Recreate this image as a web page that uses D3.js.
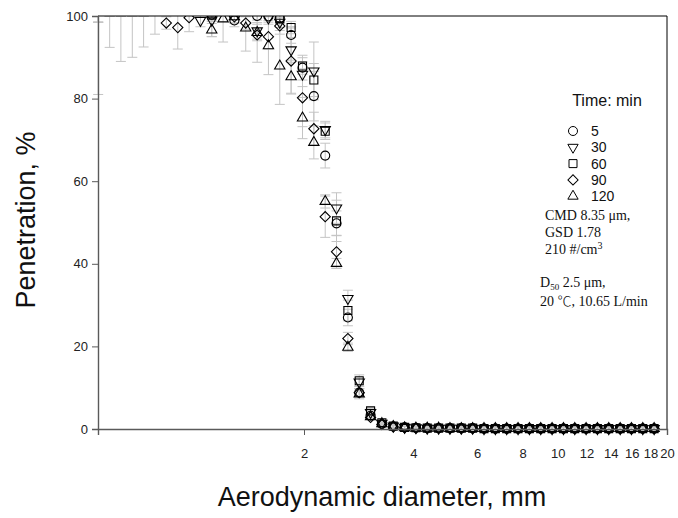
<!DOCTYPE html>
<html>
<head>
<meta charset="utf-8">
<script src="https://cdn.jsdelivr.net/npm/d3@7"></script>
<style>
  body { margin: 0; background: #fff; }
  svg { display: block; }
  .tick text { font-family: "Liberation Sans", Arial, sans-serif; font-size: 13px; fill: #222; }
  .title { font-family: "Liberation Sans", Arial, sans-serif; font-size: 27px; fill: #111; }
  .legend { font-family: "Liberation Sans", Arial, sans-serif; font-size: 14px; fill: #111; }
  .note { font-family: "Liberation Serif", "Times New Roman", serif; font-size: 14px; fill: #111; }
</style>
</head>
<body>
<script>
// APS channel midpoints, um
const diameters = [0.542, 0.583, 0.626, 0.673, 0.723, 0.777, 0.835, 0.898, 0.965, 1.037,
  1.114, 1.197, 1.286, 1.382, 1.486, 1.596, 1.715, 1.843, 1.981, 2.129,
  2.288, 2.458, 2.642, 2.839, 3.051, 3.278, 3.523, 3.786, 4.068, 4.371,
  4.698, 5.048, 5.425, 5.829, 6.264, 6.732, 7.234, 7.774, 8.354, 8.977,
  9.647, 10.37, 11.14, 11.97, 12.86, 13.82, 14.86, 15.96, 17.15, 18.43];

// penetration, % (values above 100 fall outside the frame)
const pen5 = [103, 103, 103, 103, 103, 103, 103, 103, 103, 103,
  100.3, 103, 98.9, 103, 100, 99.9, 99.5, 95.4, 87.5, 80.6,
  66.2, 49.8, 27, 8.8, 3.2, 1.2, 0.6, 0.4, 0.3, 0.2,
  0.2, 0.2, 0.2, 0.2, 0.1, 0.1, 0.1, 0.1, 0.1, 0.1,
  0.1, 0.1, 0.1, 0.1, 0.1, 0.1, 0.1, 0.1, 0.1, 0.1];
const pen30 = [103, 103, 103, 103, 103, 103, 103, 103, 103, 98.9,
  99.0, 103, 103, 103, 96.4, 99.5, 98.5, 91.8, 85.9, 86.7,
  72.5, 53.5, 31.6, 11.4, 4.0, 1.4, 0.7, 0.4, 0.3, 0.2,
  0.2, 0.2, 0.2, 0.2, 0.1, 0.1, 0.1, 0.1, 0.1, 0.1,
  0.1, 0.1, 0.1, 0.1, 0.1, 0.1, 0.1, 0.1, 0.1, 0.1];
const pen60 = [103, 103, 103, 103, 103, 103, 103, 103, 103, 103,
  100.2, 103, 103, 103, 103, 103, 99.3, 97.2, 87.9, 84.5,
  72.1, 50.4, 28.7, 11.7, 4.4, 1.5, 0.7, 0.4, 0.3, 0.2,
  0.2, 0.2, 0.2, 0.2, 0.1, 0.1, 0.1, 0.1, 0.1, 0.1,
  0.1, 0.1, 0.1, 0.1, 0.1, 0.1, 0.1, 0.1, 0.1, 0.1];
const pen90 = [103, 103, 103, 103, 103, 103, 98.3, 97.2, 99.6, 103,
  103, 103, 99.8, 98.3, 95.4, 95.0, 97.6, 89.1, 80.2, 72.7,
  51.4, 42.9, 21.9, 8.8, 2.8, 1.1, 0.5, 0.3, 0.2, 0.2,
  0.2, 0.1, 0.1, 0.1, 0.1, 0.1, 0.1, 0.1, 0.1, 0.1,
  0.1, 0.1, 0.1, 0.1, 0.1, 0.1, 0.1, 0.1, 0.1, 0.1];
const pen120 = [103, 103, 103, 103, 103, 103, 103, 103, 103, 103,
  96.6, 99.3, 99.8, 97.1, 96.0, 92.8, 87.9, 85.3, 75.3, 69.4,
  55.1, 40.1, 19.8, 8.5, 3.0, 1.3, 0.6, 0.3, 0.2, 0.2,
  0.2, 0.1, 0.1, 0.1, 0.1, 0.1, 0.1, 0.1, 0.1, 0.1,
  0.1, 0.1, 0.1, 0.1, 0.1, 0.1, 0.1, 0.1, 0.1, 0.1];

// standard deviations, %
const err5 = [22, 10.6, 14, 13, 10.5, 7.4, 2, 2, 2, 2,
  1.5, 2, 1.5, 2, 1, 1, 1, 2, 3, 6,
  3, 3, 2, 1, 0.5, 0.3, 0.3, 0.3, 0.3, 0.3,
  0.3, 0.3, 0.3, 0.3, 0.3, 0.3, 0.3, 0.3, 0.3, 0.3,
  0.3, 0.3, 0.3, 0.3, 0.3, 0.3, 0.3, 0.3, 0.3, 0.3];
const err30 = [4.5, 3, 3, 3, 3, 2, 2, 2, 2, 1.5,
  4, 2, 2, 2, 2, 1, 2, 3, 3, 7,
  2, 3.7, 2, 1, 0.5, 0.3, 0.3, 0.3, 0.3, 0.3,
  0.3, 0.3, 0.3, 0.3, 0.3, 0.3, 0.3, 0.3, 0.3, 0.3,
  0.3, 0.3, 0.3, 0.3, 0.3, 0.3, 0.3, 0.3, 0.3, 0.3];
const err60 = [4.5, 3, 3, 3, 3, 2, 2, 2, 2, 2,
  1.5, 2, 2, 2, 2, 2, 1, 1.5, 2, 4,
  2, 5, 2.5, 1.4, 0.6, 0.3, 0.3, 0.3, 0.3, 0.3,
  0.3, 0.3, 0.3, 0.3, 0.3, 0.3, 0.3, 0.3, 0.3, 0.3,
  0.3, 0.3, 0.3, 0.3, 0.3, 0.3, 0.3, 0.3, 0.3, 0.3];
const err90 = [4.5, 3, 3, 3, 3, 2, 1.5, 5.2, 3.4, 2,
  2, 2, 1.5, 1.5, 6.6, 3, 2, 8, 7, 4,
  5, 4, 1.5, 1, 0.5, 0.3, 0.3, 0.3, 0.3, 0.3,
  0.3, 0.3, 0.3, 0.3, 0.3, 0.3, 0.3, 0.3, 0.3, 0.3,
  0.3, 0.3, 0.3, 0.3, 0.3, 0.3, 0.3, 0.3, 0.3, 0.3];
const err120 = [4.5, 3, 3, 3, 3, 2, 2, 2, 2, 2,
  1.6, 5.6, 1.5, 5.6, 2, 7, 9.3, 4, 5, 4,
  1.6, 1.2, 1, 1.2, 0.5, 0.3, 0.3, 0.3, 0.3, 0.3,
  0.3, 0.3, 0.3, 0.3, 0.3, 0.3, 0.3, 0.3, 0.3, 0.3,
  0.3, 0.3, 0.3, 0.3, 0.3, 0.3, 0.3, 0.3, 0.3, 0.3];

const times = ["5", "30", "60", "90", "120"];
const xTicks = [2, 4, 6, 8, 10, 12, 14, 16, 18, 20];
const yTicks = [0, 20, 40, 60, 80, 100];

const series = [
  {name: times[0], y: pen5, e: err5, shape: "circle"},
  {name: times[1], y: pen30, e: err30, shape: "tridown"},
  {name: times[2], y: pen60, e: err60, shape: "square"},
  {name: times[3], y: pen90, e: err90, shape: "diamond"},
  {name: times[4], y: pen120, e: err120, shape: "triup"}
];

const W = 678, H = 518;
const margin = {top: 16, right: 11, bottom: 89, left: 98};

const svg = d3.select("body").append("svg")
  .attr("width", W).attr("height", H);

const x = d3.scaleLog().domain([0.5414, 20]).range([margin.left, W - margin.right]);
const y = d3.scaleLinear().domain([0, 100]).range([H - margin.bottom, margin.top]);

// symbol path per shape, scaled by k
function symbolPath(shape, k) {
  switch (shape) {
    case "circle": return d3.symbol(d3.symbolCircle, 64 * k * k)();
    case "square": return d3.symbol(d3.symbolSquare, 64 * k * k)();
    case "diamond": return d3.symbol(d3.symbolSquare, 52 * k * k)();
    default: return d3.symbol(d3.symbolTriangle, 46 * k * k)();
  }
}
function symbolRotate(shape) {
  if (shape === "tridown") return 180;
  if (shape === "diamond") return 45;
  return 0;
}

svg.append("clipPath").attr("id", "plotClip")
  .append("rect")
  .attr("x", margin.left - 10).attr("y", margin.top)
  .attr("width", W - margin.left - margin.right + 20)
  .attr("height", H - margin.top - margin.bottom + 20);

const plot = svg.append("g").attr("clip-path", "url(#plotClip)");

// error bars
series.forEach(function(s) {
  const g = plot.append("g").attr("class", "err");
  diameters.forEach(function(d, i) {
    const cx = x(d);
    const lo = y(s.y[i] - s.e[i]), hi = y(s.y[i] + s.e[i]);
    g.append("line").attr("x1", cx).attr("x2", cx).attr("y1", lo).attr("y2", hi);
    g.append("line").attr("x1", cx - 5).attr("x2", cx + 5).attr("y1", lo).attr("y2", lo);
    g.append("line").attr("x1", cx - 5).attr("x2", cx + 5).attr("y1", hi).attr("y2", hi);
  });
  g.selectAll("line").attr("stroke", "#c4c4c4").attr("stroke-width", 1);
});

// markers
series.forEach(function(s) {
  plot.append("g").selectAll("path")
    .data(diameters)
    .join("path")
    .attr("d", symbolPath(s.shape, 1))
    .attr("transform", (d, i) => "translate(" + x(d) + "," + y(s.y[i]) + ") rotate(" + symbolRotate(s.shape) + ")")
    .attr("fill", "none")
    .attr("stroke", "#000")
    .attr("stroke-width", 1.1);
});

// frame: top and right
svg.append("line").attr("x1", margin.left).attr("x2", W - margin.right)
  .attr("y1", margin.top).attr("y2", margin.top).attr("stroke", "#000");
svg.append("line").attr("x1", W - margin.right).attr("x2", W - margin.right)
  .attr("y1", margin.top).attr("y2", H - margin.bottom).attr("stroke", "#000");

// axes
const xAxis = svg.append("g")
  .attr("transform", "translate(0," + (H - margin.bottom) + ")")
  .call(d3.axisBottom(x).tickValues(xTicks).tickFormat(d3.format("d")).tickSize(6).tickPadding(14));
xAxis.selectAll(".tick line").attr("stroke-opacity", d => d === 2 ? 1 : 0);

const yAxis = svg.append("g")
  .attr("transform", "translate(" + margin.left + ",0)")
  .call(d3.axisLeft(y).tickValues(yTicks).tickSize(6).tickPadding(4));

svg.selectAll(".domain").attr("stroke", "#5a5a5a").attr("stroke-width", 1.4);
svg.selectAll(".tick line").attr("stroke", "#5a5a5a");

// axis titles
svg.append("text").attr("class", "title")
  .attr("x", 382).attr("y", 506)
  .attr("text-anchor", "middle")
  .text("Aerodynamic diameter, mm");
svg.append("text").attr("class", "title")
  .attr("transform", "translate(35,220) rotate(-90)")
  .attr("text-anchor", "middle")
  .text("Penetration, %");

// legend
const legend = svg.append("g").attr("class", "legend");
legend.append("text").attr("x", 607).attr("y", 106).attr("text-anchor", "middle")
  .attr("font-size", "16px").text("Time: min");
series.forEach(function(s, i) {
  const ly = 131 + i * 16.3;
  legend.append("path")
    .attr("d", symbolPath(s.shape, 1))
    .attr("transform", "translate(573," + ly + ") rotate(" + symbolRotate(s.shape) + ")")
    .attr("fill", "none").attr("stroke", "#000");
  legend.append("text").attr("x", 591).attr("y", ly + 5).text(s.name);
});

// notes
const note = svg.append("g").attr("class", "note");
note.append("text").attr("x", 545).attr("y", 220).text("CMD 8.35 \u03bcm,");
note.append("text").attr("x", 545).attr("y", 237).text("GSD 1.78");
const t3 = note.append("text").attr("x", 545).attr("y", 254).text("210 #/cm");
t3.append("tspan").attr("dy", -5).attr("font-size", "10px").text("3");
const t4 = note.append("text").attr("x", 540).attr("y", 287).text("D");
t4.append("tspan").attr("dy", 3).attr("font-size", "9px").text("50");
t4.append("tspan").attr("dy", -3).text(" 2.5 \u03bcm,");
const t5 = note.append("text").attr("x", 540).attr("y", 306).text("20 ");
t5.append("tspan").attr("font-family", "'Noto Sans CJK SC'").attr("font-weight", 300).text("\u2103");
t5.append("tspan").text(", 10.65 L/min");
</script>
</body>
</html>
